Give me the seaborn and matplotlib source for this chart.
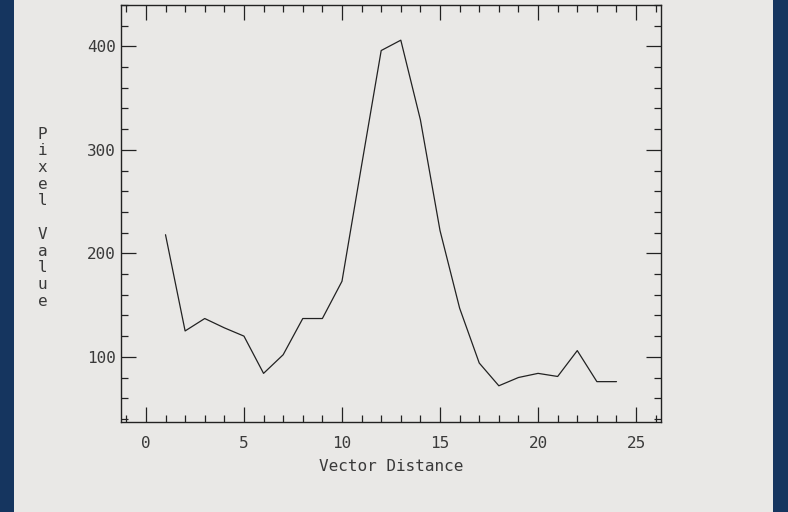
import matplotlib
matplotlib.use("Agg")
import matplotlib.pyplot as plt
from matplotlib.patches import Rectangle
from matplotlib.ticker import MultipleLocator
import seaborn as sns
import pandas as pd

# Profile along the vector
distance = [1, 2, 3, 4, 5, 6, 7, 8, 9, 10, 11, 12,
            13, 14, 15, 16, 17, 18, 19, 20, 21, 22, 23, 24]
pixel_value = [218, 125, 137, 128, 120, 84, 102, 137, 137, 173, 285, 396,
               406, 329, 222, 147, 94, 72, 80, 84, 81, 106, 76, 76]

x_ticks = [0, 5, 10, 15, 20, 25]
y_ticks = [100, 200, 300, 400]

BG = "#e9e8e6"
BORDER = "#15355f"
INK = "#222222"
TEXT = "#3a3a3a"
FS = 11.5

sns.set_style("ticks")
plt.rcParams["font.family"] = ["DejaVu Sans Mono", "DejaVu Sans"]

fig = plt.figure(figsize=(7.88, 5.12), dpi=100, facecolor=BG)
# dark side bands
for x0, w in [(0, 14), (773, 15)]:
    fig.patches.append(Rectangle((x0 / 788, 0), w / 788, 1,
                                 transform=fig.transFigure, facecolor=BORDER,
                                 edgecolor="none", zorder=-10))

ax = fig.add_axes([121 / 788, 1 - 422 / 512, 540 / 788, 417 / 512])
ax.set_facecolor(BG)

df = pd.DataFrame({"Vector Distance": distance, "Pixel Value": pixel_value})
sns.lineplot(data=df, x="Vector Distance", y="Pixel Value", ax=ax,
             color=INK, linewidth=0.9, legend=False)

ax.set_xlim(-1.27, 26.27)
ax.set_ylim(37, 440)
ax.set_xticks(x_ticks)
ax.set_yticks(y_ticks)
ax.xaxis.set_minor_locator(MultipleLocator(1))
ax.yaxis.set_minor_locator(MultipleLocator(20))

for s in ax.spines.values():
    s.set_color(INK)
    s.set_linewidth(1.0)
    s.set_visible(True)

ax.tick_params(which="both", direction="in", top=True, right=True,
               color=INK, width=0.9, labelcolor=TEXT, labelsize=FS)
ax.tick_params(which="major", length=10.5)
ax.tick_params(which="minor", length=5)
ax.tick_params(axis="x", which="major", pad=10)
ax.tick_params(axis="y", which="major", pad=3.5)

ax.set_xlabel("Vector Distance", fontsize=FS, color=TEXT, labelpad=6)
ax.set_ylabel("\n".join("Pixel Value"), rotation=0, fontsize=FS,
              color=TEXT, linespacing=1.14, va="center", ha="center")
ax.yaxis.set_label_coords(-0.145, 0.49)

fig.savefig("out.png", dpi=100, facecolor=BG)
